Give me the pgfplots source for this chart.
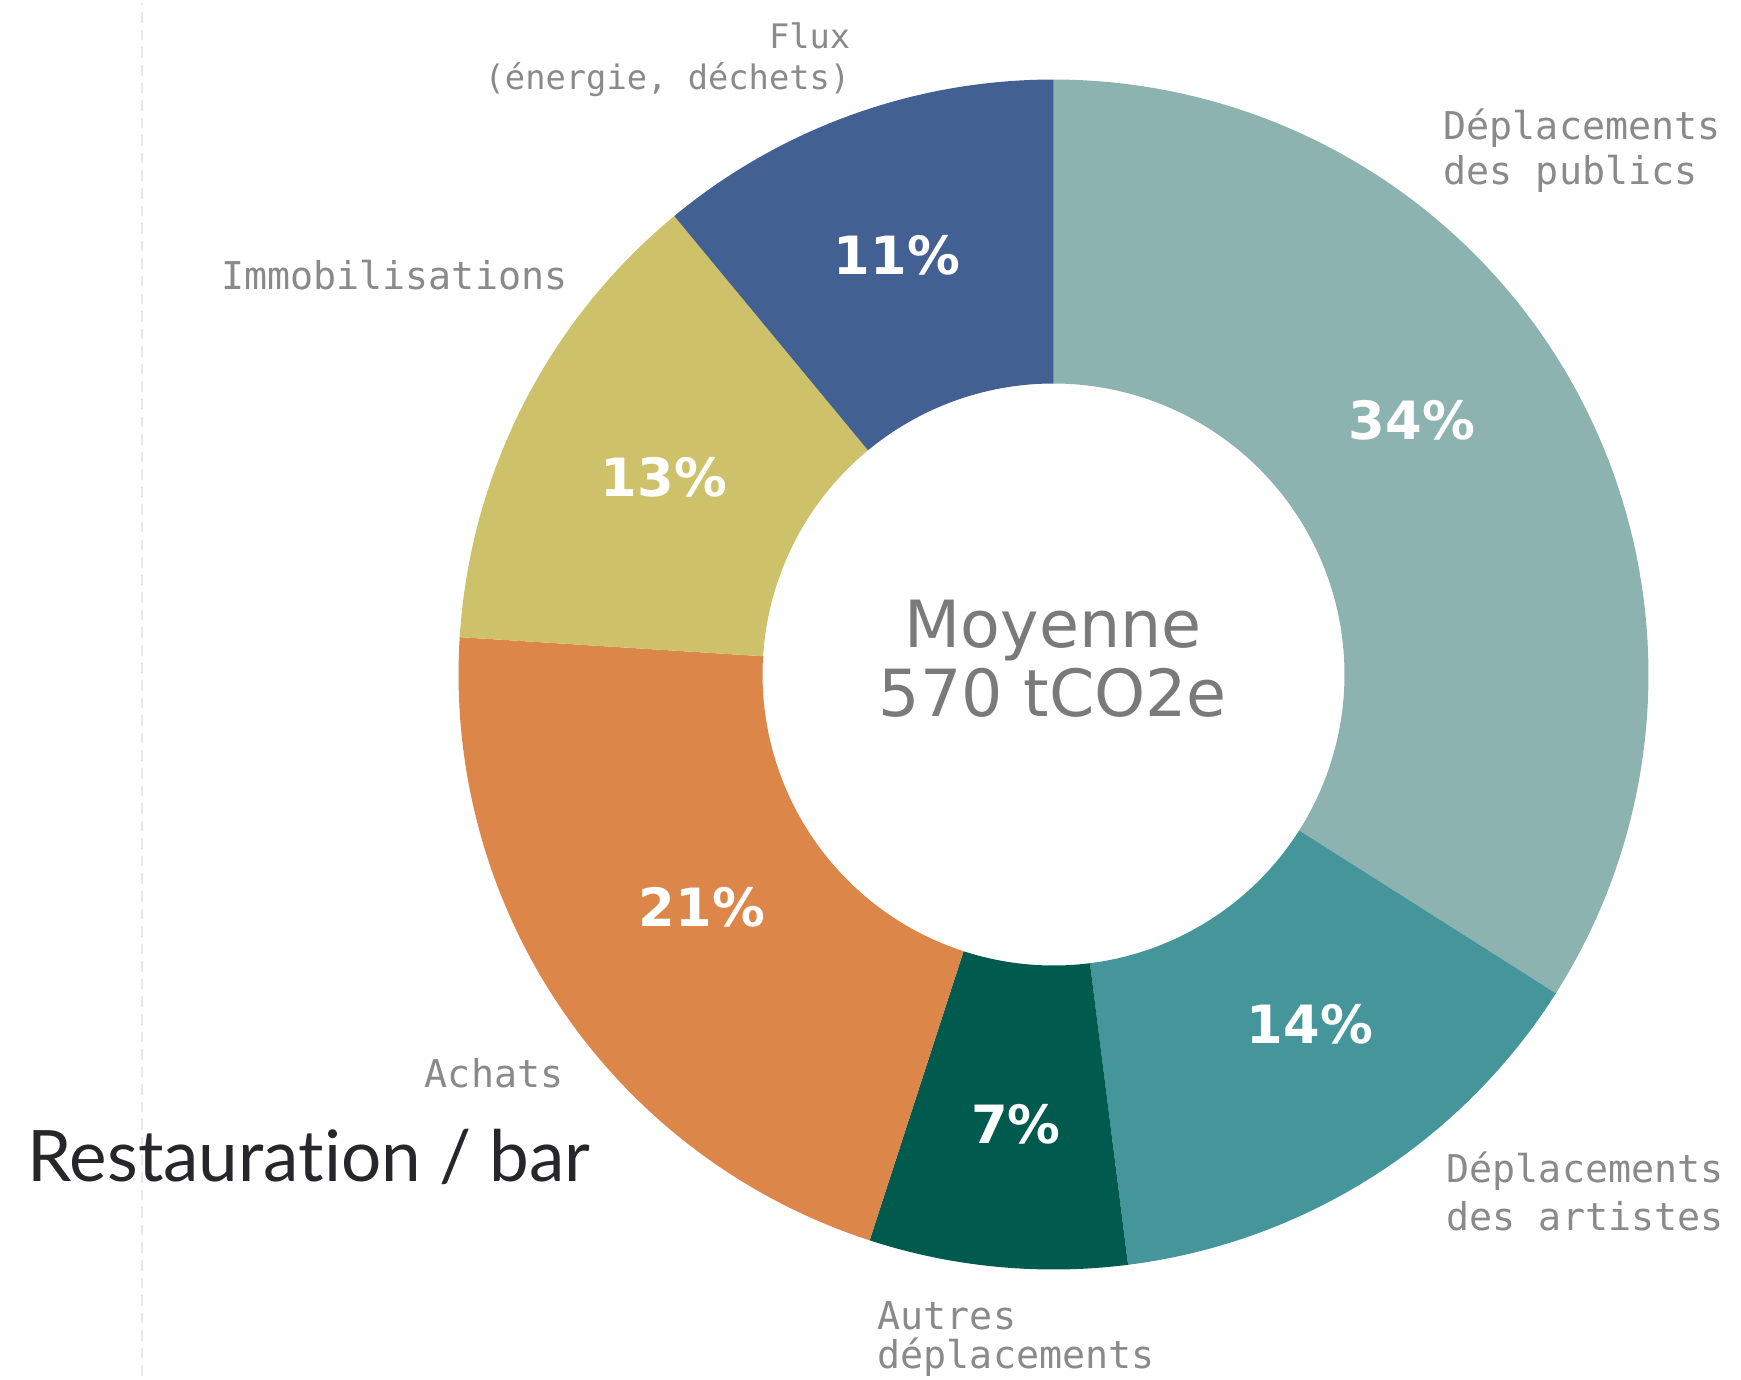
\documentclass[border=0pt]{standalone}
\usepackage{pgfplots}
\pgfplotsset{compat=1.18}
\usepackage{fontspec}
\setmainfont{DejaVu Sans}
\newfontfamily\labfont{DejaVu Sans Mono}
\newfontfamily\titfont[Ligatures=NoCommon]{Lato}
\definecolor{cPub}{HTML}{8DB3B1}
\definecolor{cArt}{HTML}{45969B}
\definecolor{cAut}{HTML}{005A4E}
\definecolor{cAch}{HTML}{DC864A}
\definecolor{cImm}{HTML}{CDC16A}
\definecolor{cFlux}{HTML}{426092}
\definecolor{labgray}{HTML}{8A8A8A}
\definecolor{midgray}{HTML}{7A7A7A}
\definecolor{titcol}{HTML}{27262B}
\def\cx{1053.5}
\def\cy{704.5}
\def\Rout{595}
\def\Rin{291}
% #1 = cumulative percent before the slice, #2 = slice percent, #3 = colour
\newcommand\slice[3]{%
  \pgfmathsetmacro\aA{90-3.6*#1}%
  \pgfmathsetmacro\aB{90-3.6*(#1+#2)}%
  \edef\doslice{\noexpand\fill[#3] plot[domain=\aA:\aB, samples=90, variable=\noexpand\t] (axis cs:{\cx+\Rout*cos(\noexpand\t)},{\cy+\Rout*sin(\noexpand\t)}) -- plot[domain=\aB:\aA, samples=90, variable=\noexpand\t] (axis cs:{\cx+\Rin*cos(\noexpand\t)},{\cy+\Rin*sin(\noexpand\t)}) -- cycle;}%
  \doslice}
\begin{document}
\begin{tikzpicture}
\begin{axis}[width=17.41cm,height=13.79cm,scale only axis,
  xmin=0,xmax=1741,ymin=0,ymax=1379,hide axis,clip=false]
% full-size frame for the bounding box
\path (axis cs:0,0) rectangle (axis cs:1741,1379);
% faint dashed guide
\draw[black!9, line width=0.8pt, dash pattern=on 3pt off 2pt] (axis cs:142,3) -- (axis cs:142,1376);
% donut slices (values in %)
\slice{0}{34}{cPub}
\slice{34}{14}{cArt}
\slice{48}{7}{cAut}
\slice{55}{21}{cAch}
\slice{76}{13}{cImm}
\slice{89}{11}{cFlux}
% percentages
\begin{scope}[every node/.style={text=white, font=\fontsize{15}{18}\selectfont\bfseries}]
\node at (axis cs:1412,959) {34\%};
\node at (axis cs:1310,355) {14\%};
\node at (axis cs:1016,255) {7\%};
\node at (axis cs:702,472) {21\%};
\node at (axis cs:664,902) {13\%};
\node at (axis cs:897,1124) {11\%};
\end{scope}
% centre
\node[text=midgray, font=\fontsize{18.5}{22}\selectfont] at (axis cs:1053,748) {Moyenne};
\node[text=midgray, font=\fontsize{18.5}{22}\selectfont] at (axis cs:1053,686) {570 tCO2e};
% category labels
\begin{scope}[every node/.style={text=labgray, font=\labfont\fontsize{10.9}{13}\selectfont, inner sep=0pt}]
\node[anchor=west] at (axis cs:1443,1251) {Déplacements};
\node[anchor=west] at (axis cs:1443,1205) {des publics};
\node[anchor=east] at (axis cs:568,1104) {Immobilisations};
\node[anchor=east] at (axis cs:564,306) {Achats};
\node[anchor=west] at (axis cs:877,63) {Autres};
\node[anchor=west] at (axis cs:877,22) {déplacements};
\node[anchor=west] at (axis cs:1446,208) {Déplacements};
\node[anchor=west] at (axis cs:1446,163) {des artistes};
\node[anchor=east, font=\labfont\fontsize{9.6}{12}\selectfont] at (axis cs:851,1343) {Flux};
\node[anchor=east, font=\labfont\fontsize{9.6}{12}\selectfont] at (axis cs:851,1299) {(énergie, déchets)};
\end{scope}
% title-like text
\node[anchor=west, inner sep=0pt, text=titcol, font=\titfont\fontsize{20.2}{24}\selectfont] at (axis cs:27,222) {Restauration / bar};
\end{axis}
\end{tikzpicture}
\end{document}
